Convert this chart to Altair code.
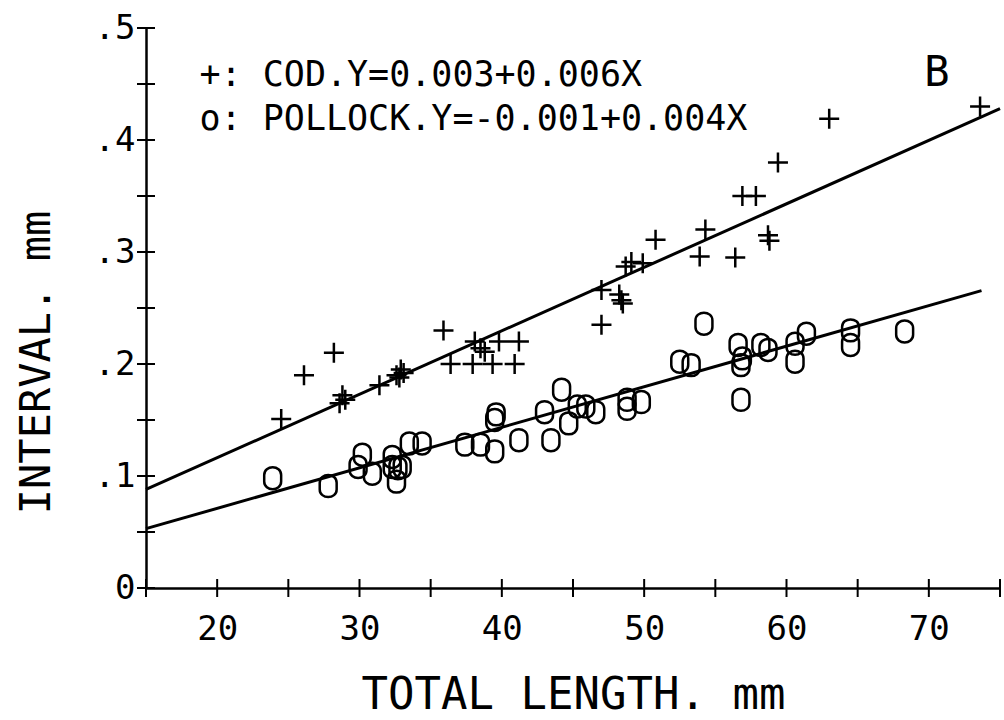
import altair as alt
import pandas as pd

# ---- data ----
cod_x = [24.5, 26.1, 28.2, 28.6, 28.8, 29.0, 31.4, 32.6, 32.8, 32.9, 33.1,
         35.9, 36.4, 37.95, 38.1, 38.5, 38.8, 39.35, 39.8, 40.9, 41.2,
         47.0, 47.0, 48.25, 48.4, 48.5, 48.7, 49.1, 49.9, 50.8, 53.9, 54.3,
         56.4, 56.9, 57.85, 58.7, 58.8, 59.4, 63.0, 73.6]
cod_y = [0.151, 0.190, 0.210, 0.165, 0.172, 0.168, 0.181, 0.190, 0.188, 0.195, 0.192,
         0.230, 0.200, 0.200, 0.220, 0.214, 0.211, 0.200, 0.220, 0.200, 0.220,
         0.235, 0.266, 0.262, 0.257, 0.254, 0.287, 0.291, 0.290, 0.311, 0.296, 0.320,
         0.295, 0.350, 0.350, 0.315, 0.310, 0.380, 0.419, 0.430]

pol_x = [23.9, 27.8, 29.9, 30.2, 30.9, 32.3, 32.3, 32.6, 32.7, 33.0, 33.5, 34.4,
         37.4, 38.5, 39.5, 39.5, 39.6, 41.2, 43.0, 43.45, 44.2, 44.7, 45.3, 45.9,
         46.6, 48.8, 48.8, 49.8, 52.5, 53.3, 54.2, 56.6, 56.8, 56.9, 56.8, 58.2,
         58.7, 60.6, 60.6, 61.4, 64.5, 64.5, 68.3]
pol_y = [0.098, 0.091, 0.108, 0.119, 0.102, 0.117, 0.108, 0.095, 0.107, 0.108, 0.129, 0.129,
         0.128, 0.128, 0.122, 0.150, 0.155, 0.132, 0.157, 0.132, 0.177, 0.147, 0.162, 0.162,
         0.157, 0.168, 0.160, 0.166, 0.202, 0.199, 0.236, 0.217, 0.199, 0.205, 0.168, 0.217,
         0.2125, 0.218, 0.202, 0.227, 0.230, 0.217, 0.229]

cod_fit_x = [15, 75]
cod_fit_y = [0.088, 0.428]
pol_fit_x = [15, 73.7]
pol_fit_y = [0.053, 0.2655]

x_tick_vals = [15, 20, 25, 30, 35, 40, 45, 50, 55, 60, 65, 70, 75]
y_tick_vals = [0, 0.05, 0.1, 0.15, 0.2, 0.25, 0.3, 0.35, 0.4, 0.45, 0.5]
x_label_vals = [20, 30, 40, 50, 60, 70]
y_label_vals = [0, 0.1, 0.2, 0.3, 0.4, 0.5]

legend_text = ["+: COD.Y=0.003+0.006X", "o: POLLOCK.Y=-0.001+0.004X"]
legend_x = [18.76, 18.76]
legend_y = [0.448, 0.409]
panel_text = ["B"]
panel_x = [69.67]
panel_y = [0.448]

FONT = "DejaVu Sans Mono"

xscale = alt.Scale(domain=[15, 75], nice=False, zero=False)
yscale = alt.Scale(domain=[0, 0.5], nice=False, zero=False)

X = alt.X("x:Q", scale=xscale,
          axis=alt.Axis(values=x_label_vals, ticks=False, grid=False,
                        domainColor="black", domainWidth=2.5,
                        labelFont=FONT, labelFontSize=34, labelColor="black",
                        labelPadding=24,
                        title="TOTAL LENGTH. mm", titleFont=FONT, titleFontSize=44,
                        titleFontWeight="normal", titleColor="black",
                        titleBaseline="alphabetic", titleY=120))
Y = alt.Y("y:Q", scale=yscale,
          axis=alt.Axis(values=y_label_vals, ticks=False, grid=False,
                        domainColor="black", domainWidth=2.5,
                        labelFont=FONT, labelFontSize=34, labelColor="black",
                        labelPadding=11,
                        labelExpr="datum.value == 0 ? '0' : replace(format(datum.value, '.1f'), '0.', '.')",
                        title="INTERVAL. mm", titleFont=FONT, titleFontSize=42,
                        titleFontWeight="normal", titleColor="black",
                        titleBaseline="alphabetic", titleX=-97, titleY=334))

cod_df = pd.DataFrame({"x": cod_x, "y": cod_y})
pol_df = pd.DataFrame({"x": pol_x, "y": pol_y})
cod_fit_df = pd.DataFrame({"x": cod_fit_x, "y": cod_fit_y})
pol_fit_df = pd.DataFrame({"x": pol_fit_x, "y": pol_fit_y})
xt_df = pd.DataFrame({"x": x_tick_vals, "y": [0] * len(x_tick_vals)})
yt_df = pd.DataFrame({"x": [15] * len(y_tick_vals), "y": y_tick_vals})
leg_df = pd.DataFrame({"x": legend_x, "y": legend_y, "t": legend_text})
pan_df = pd.DataFrame({"x": panel_x, "y": panel_y, "t": panel_text})

PLUS = "M-1,0 L1,0 M0,-1 L0,1"
OVAL = "M-0.77,-0.3 C-0.77,-1.23 0.77,-1.23 0.77,-0.3 L0.77,0.3 C0.77,1.23 -0.77,1.23 -0.77,0.3 Z"

cod_pts = alt.Chart(cod_df).mark_point(shape=PLUS, size=400, filled=False,
                                       color="black", strokeWidth=2.5, opacity=1).encode(x=X, y=Y)
pol_pts = alt.Chart(pol_df).mark_point(shape=OVAL, size=484, filled=False,
                                       color="black", strokeWidth=2.5, opacity=1).encode(x=X, y=Y)
cod_line = alt.Chart(cod_fit_df).mark_line(color="black", strokeWidth=3).encode(x=X, y=Y)
pol_line = alt.Chart(pol_fit_df).mark_line(color="black", strokeWidth=3).encode(x=X, y=Y)
xticks = alt.Chart(xt_df).mark_tick(orient="vertical", size=18, thickness=2,
                                    color="black", opacity=1).encode(x=X, y=Y)
yticks = alt.Chart(yt_df).mark_tick(orient="horizontal", size=18, thickness=2,
                                    color="black", opacity=1).encode(x=X, y=Y)
legend = alt.Chart(leg_df).mark_text(align="left", baseline="alphabetic", font=FONT,
                                     fontSize=35, color="black").encode(x=X, y=Y, text="t:N")
panel = alt.Chart(pan_df).mark_text(align="left", baseline="alphabetic", font=FONT,
                                    fontSize=42, color="black").encode(x=X, y=Y, text="t:N")

chart = alt.layer(cod_line, pol_line, xticks, yticks, cod_pts, pol_pts, legend, panel).properties(
    width=854, height=560,
    autosize=alt.AutoSizeParams(type="none"),
    padding={"left": 146, "top": 28, "right": 4, "bottom": 132},
    background="white",
).configure_view(stroke=None)

chart.save("out.html", embed_options={"renderer": "svg", "actions": False})
